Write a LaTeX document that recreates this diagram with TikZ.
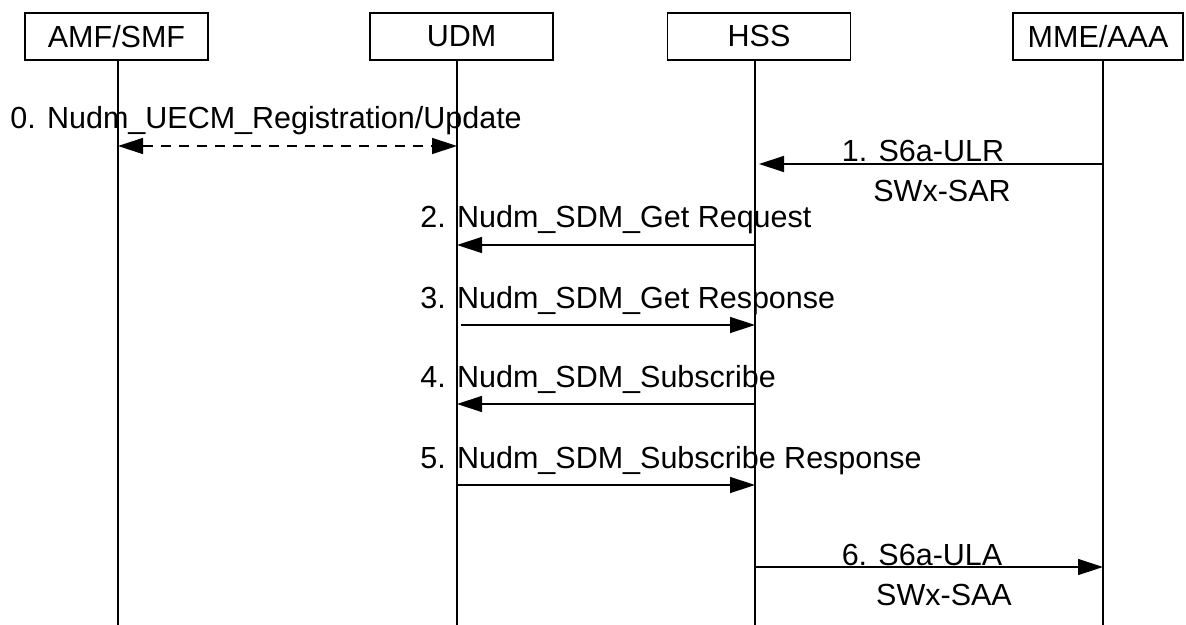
\documentclass[tikz,border=0pt]{standalone}
\usepackage{fontspec}
\setmainfont{Liberation Sans}
\usetikzlibrary{
  arrows.meta,
  calc,
  positioning,
}
\tikzset{
  >={Triangle[length=12.5pt,width=8pt]},
  entity/.style={draw, line width=0.65pt, inner sep=0pt,
    minimum width=91.5pt, minimum height=23.5pt},
  lifeline/.style={line width=0.65pt},
  msg/.style={->, line width=0.7pt},
  reply/.style={<->, line width=0.7pt, dash pattern=on 5pt off 4pt},
  msgtext/.style={anchor=base west, inner sep=0pt},
  sidetext/.style={anchor=base, inner sep=0pt},
}

\begin{document}
\begin{tikzpicture}[x=0.5pt, y=-0.5pt, font=\fontsize{15.25}{18}\selectfont]
  \useasboundingbox (0,0) rectangle (1186,625);

  \node [entity] (amf) at (116.5,36.5) {AMF/SMF};
  \node [entity] (udm) at (461.5,36.5) {UDM};
  \node [entity] (hss) at (759,36.5) {HSS};
  \node [entity, minimum width=85pt] (mme) at (1098,36.5) {MME/AAA};

  \coordinate (amfl) at (118,60);
  \coordinate (udml) at (457,60);
  \coordinate (hssl) at (755,60);
  \coordinate (mmel) at (1103,60);
  \foreach \l in {amfl,udml,hssl,mmel}
    \draw [lifeline] (\l) -- (\l |- 0,625);

  % message rows
  \coordinate (m0) at (0,146);
  \coordinate (m1) at (0,164);
  \coordinate (m2) at (0,245);
  \coordinate (m3) at (0,325);
  \coordinate (m4) at (0,404);
  \coordinate (m5) at (0,485);
  \coordinate (m6) at (0,567);

  \draw [reply] (amfl |- m0) -- (udml |- m0);
  \node [msgtext] (t0) at ($(m0)+(10,-17)$) {0. Nudm\_UECM\_Registration/Update};

  \draw [msg, shorten >=2pt] (mmel |- m1) -- (hssl |- m1);
  \node [sidetext] (t1) at ($(m1)+(923,-2)$) {1. S6a-ULR};
  \node [sidetext] (t1b) at ($(m1)+(942,38)$) {SWx-SAR};

  \draw [msg] (hssl |- m2) -- (udml |- m2);
  \node [msgtext] (t2) at ($(m2)+(420,-17)$) {2. Nudm\_SDM\_Get Request};

  \draw [msg, shorten <=2pt] (udml |- m3) -- (hssl |- m3);
  \node [msgtext] (t3) at ($(m3)+(420,-17)$) {3. Nudm\_SDM\_Get Response};

  \draw [msg] (hssl |- m4) -- (udml |- m4);
  \node [msgtext] (t4) at ($(m4)+(420,-17)$) {4. Nudm\_SDM\_Subscribe};

  \draw [msg] (udml |- m5) -- (hssl |- m5);
  \node [msgtext] (t5) at ($(m5)+(420,-17)$) {5. Nudm\_SDM\_Subscribe Response};

  \draw [msg] (hssl |- m6) -- (mmel |- m6);
  \node [sidetext] (t6) at ($(m6)+(922,-2)$) {6. S6a-ULA};
  \node [sidetext] (t6b) at ($(m6)+(944,38)$) {SWx-SAA};
\end{tikzpicture}
\end{document}
